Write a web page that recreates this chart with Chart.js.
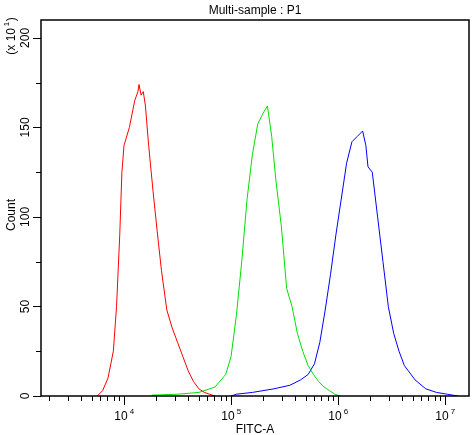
<!DOCTYPE html>
<html><head><meta charset="utf-8">
<script src="https://cdn.jsdelivr.net/npm/chart.js@4/dist/chart.umd.min.js"></script>
<style>html,body{margin:0;background:#fff}#c{display:block}</style>
</head><body>
<canvas id="c" width="476" height="435"></canvas>
<script>
// positions as log10(FITC-A), counts in units of 10
const redLog   = [3.75,3.8,3.85,3.9,3.93,3.96,3.98,4.0,4.05,4.1,4.13,4.14,4.16,4.18,4.2,4.23,4.27,4.31,4.35,4.4,4.45,4.5,4.55,4.6,4.65,4.7,4.75,4.8,4.85];
const redCount = [0,3,10,25,50,90,125,140,150,165,170,174,168,170,162,140,115,92,70,48,38,30,22,14,8,4,2,1,0];
const greenLog   = [4.26,4.5,4.7,4.85,4.95,5.0,5.05,5.1,5.15,5.2,5.25,5.3,5.34,5.38,5.42,5.47,5.52,5.57,5.62,5.67,5.72,5.77,5.82,5.87,5.92,5.97,6.02];
const greenCount = [0.5,1,2,5,12,22,45,75,110,135,152,158,162,145,120,95,60,50,35,25,17,12,8,5,3,1,0];
const blueLog   = [5.0,5.05,5.2,5.4,5.55,5.65,5.72,5.78,5.83,5.88,5.93,5.98,6.03,6.08,6.13,6.18,6.23,6.26,6.28,6.32,6.37,6.42,6.47,6.52,6.57,6.62,6.72,6.82,6.92,7.02,7.12];
const blueCount = [0,1,2,4,6,9,12,18,30,48,68,90,110,130,142,145,148,140,128,125,100,75,50,35,25,17,9,4,2,1,0];
const decadeLabels = ["4","5","6","7"];
const yLabels = [0,50,100,150,200];

const pts = (lx, ly) => lx.map((v,i) => ({x: Math.pow(10,v), y: ly[i]}));
const ds = (lx, ly, col) => ({data: pts(lx,ly), borderColor: col, borderWidth: 1, pointRadius: 0, tension: 0, fill: false});

const F = "Arial, 'Liberation Sans', sans-serif";

const decor = {
  id: "decor",
  afterDraw(ch) {
    const c = ch.ctx, a = ch.chartArea, xs = ch.scales.x, ys = ch.scales.y;
    c.save();
    c.strokeStyle = "#000"; c.lineWidth = 1.5;
    c.strokeRect(a.left, a.top, a.right - a.left, a.bottom - a.top);
    c.lineWidth = 1; c.beginPath();
    // x ticks
    for (let e = 3; e <= 7; e++) for (let m = 1; m <= 9; m++) {
      const px = xs.getPixelForValue(m * Math.pow(10, e));
      if (px < a.left - 0.5 || px > a.right + 0.5) continue;
      c.moveTo(Math.round(px)+0.5, a.bottom); c.lineTo(Math.round(px)+0.5, a.bottom + (m === 1 ? 9 : 5));
    }
    // y ticks
    for (let v = 0; v <= 200; v += 25) {
      const py = Math.round(ys.getPixelForValue(v)) + 0.5;
      c.moveTo(a.left, py); c.lineTo(a.left - (v % 50 ? 5 : 8), py);
    }
    c.stroke();
    c.fillStyle = "#000";
    c.font = "12px " + F; c.textAlign = "center"; c.textBaseline = "alphabetic";
    decadeLabels.forEach(d => {
      const px = xs.getPixelForValue(Math.pow(10, +d));
      c.font = "12px " + F; c.fillText("10", px - 3, a.bottom + 24);
      c.font = "8px " + F; c.fillText(d, px + 8, a.bottom + 18);
    });
    c.font = "12px " + F;
    c.fillText("FITC-A", (a.left + a.right) / 2, a.bottom + 37);
    c.fillText("Multi-sample : P1", (a.left + a.right) / 2, 14);
    yLabels.forEach(v => {
      const py = ys.getPixelForValue(v);
      c.save(); c.translate(a.left - 12, py); c.rotate(-Math.PI/2);
      c.textAlign = "center"; c.fillText(String(v), 0, 0); c.restore();
    });
    c.save(); c.translate(15, 215); c.rotate(-Math.PI/2); c.fillText("Count", 0, 0); c.restore();
    c.save(); c.translate(15, 36); c.rotate(-Math.PI/2);
    c.textAlign = "center"; c.fillText("(x 10  )", 0, 0);
    c.font = "8px " + F; c.fillText("1", 12, -6); c.restore();
    c.restore();
  }
};

new Chart(document.getElementById("c"), {
  type: "line",
  data: { datasets: [ds(redLog, redCount, "#ff0000"), ds(greenLog, greenCount, "#00e000"), ds(blueLog, blueCount, "#0000ff")] },
  options: {
    responsive: false, animation: false,
    layout: { padding: { left: 41, right: 7, top: 20, bottom: 39 } },
    plugins: { legend: { display: false }, tooltip: { enabled: false } },
    scales: {
      x: { type: "logarithmic", min: Math.pow(10, 3.224), max: Math.pow(10, 7.224), display: false },
      y: { type: "linear", min: 0, max: 210, display: false }
    }
  },
  plugins: [decor]
});
</script>
</body></html>
